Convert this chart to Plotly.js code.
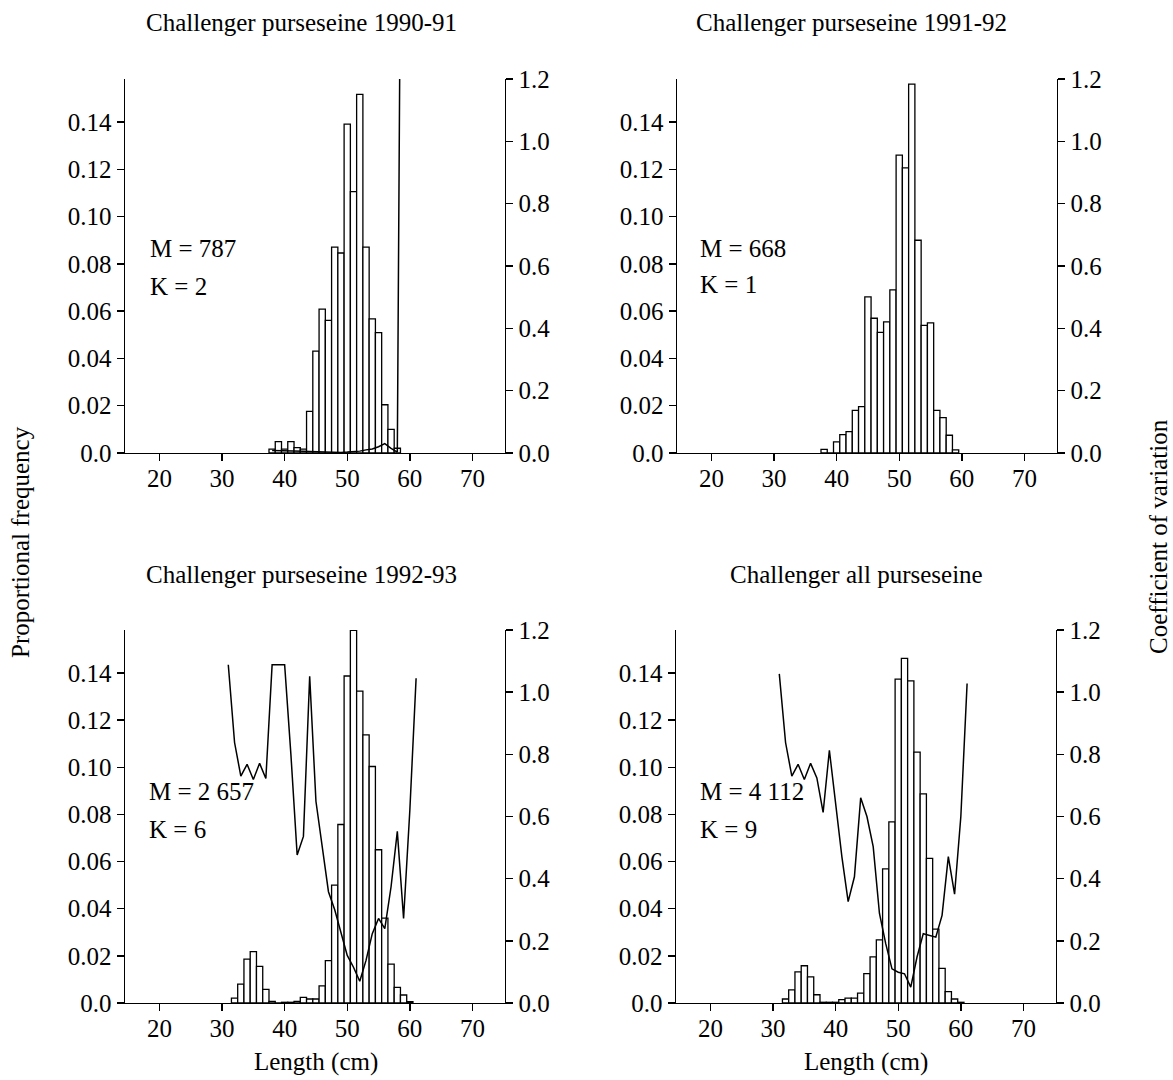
<!DOCTYPE html>
<html><head><meta charset="utf-8">
<script src="https://cdn.plot.ly/plotly-3.0.1.min.js"></script>
<style>html,body{margin:0;padding:0;background:#fff}</style>
</head><body><div id="chart" style="width:1173px;height:1080px"></div>
<script>
// ---------- data ----------
const panelTitles = ['Challenger purseseine 1990-91','Challenger purseseine 1991-92','Challenger purseseine 1992-93','Challenger all purseseine'];
const mLabels = ['M = 787','M = 668','M = 2 657','M = 4 112'];
const kLabels = ['K = 2','K = 1','K = 6','K = 9'];
const xTickVals = [20,30,40,50,60,70];
const xTickText = ['20','30','40','50','60','70'];
const freqTickVals = [0,0.02,0.04,0.06,0.08,0.10,0.12,0.14];
const freqTickText = ['0.0','0.02','0.04','0.06','0.08','0.10','0.12','0.14'];
const cvTickVals = [0,0.2,0.4,0.6,0.8,1.0,1.2];
const cvTickText = ['0.0','0.2','0.4','0.6','0.8','1.0','1.2'];
const xLabel = 'Length (cm)';
const yLeftLabel = 'Proportional frequency';
const yRightLabel = 'Coefficient of variation';

// 1990-91
const len1990 = [38,39,40,41,42,43,44,45,46,47,48,49,50,51,52,53,54,55,56,57,58];
const freq1990 = [0.0016,0.0048,0.0016,0.0048,0.0023,0.0016,0.0176,0.0431,0.0609,0.0561,0.0871,0.0846,0.1391,0.1106,0.1517,0.0871,0.0567,0.0509,0.0204,0.0100,0.0020];
const cvLen1990 = [38,39,40,41,42,43,44,45,46,47,48,49,50,51,52,53,54,55,56,57,58,59];
const cv1990 = [0.008,0.008,0.008,0.008,0.007,0.006,0.005,0.004,0.003,0.002,0.002,0.002,0.003,0.004,0.006,0.010,0.013,0.020,0.030,0.015,0.003,3.2];

// 1991-92
const len1991 = [38,39,40,41,42,43,44,45,46,47,48,49,50,51,52,53,54,55,56,57,58,59];
const freq1991 = [0.0015,0.0000,0.0047,0.0078,0.0090,0.0180,0.0196,0.0660,0.0570,0.0510,0.0555,0.0690,0.1260,0.1206,0.1560,0.0900,0.0540,0.0550,0.0180,0.0150,0.0075,0.0013];

// 1992-93
const len1992 = [32,33,34,35,36,37,38,39,40,41,42,43,44,45,46,47,48,49,50,51,52,53,54,55,56,57,58,59,60];
const freq1992 = [0.0021,0.0080,0.0186,0.0218,0.0155,0.0058,0.0007,0.0000,0.0003,0.0003,0.0007,0.0024,0.0017,0.0017,0.0073,0.0180,0.0500,0.0757,0.1387,0.1580,0.1323,0.1137,0.1003,0.0650,0.0360,0.0165,0.0066,0.0034,0.0006];
const cvLen1992 = [31,32,33,34,35,36,37,38,39,40,41,42,43,44,45,46,47,48,49,50,51,52,53,54,55,56,57,58,59,60,61];
const cv1992 = [1.088,0.838,0.730,0.768,0.719,0.771,0.722,1.088,1.088,1.088,0.800,0.476,0.536,1.051,0.649,0.500,0.358,0.300,0.223,0.153,0.115,0.070,0.137,0.223,0.272,0.239,0.374,0.552,0.272,0.620,1.045];

// all purseseine
const lenAll = [32,33,34,35,36,37,38,39,40,41,42,43,44,45,46,47,48,49,50,51,52,53,54,55,56,57,58,59,60];
const freqAll = [0.0017,0.0056,0.0132,0.0158,0.0111,0.0035,0.0003,0.0003,0.0003,0.0014,0.0021,0.0021,0.0042,0.0125,0.0196,0.0268,0.0569,0.0768,0.1374,0.1462,0.1366,0.1064,0.0887,0.0613,0.0313,0.0147,0.0048,0.0017,0.0003];
const cvLenAll = [31,32,33,34,35,36,37,38,39,40,41,42,43,44,45,46,47,48,49,50,51,52,53,54,55,56,57,58,59,60,61];
const cvAll = [1.059,0.838,0.730,0.768,0.719,0.771,0.724,0.613,0.813,0.640,0.470,0.326,0.406,0.660,0.600,0.503,0.288,0.191,0.110,0.099,0.094,0.051,0.148,0.223,0.218,0.212,0.282,0.471,0.350,0.600,1.028];

// ---------- layout helpers ----------
const W = 1173, H = 1080;
const px = v => v / W;
const py = v => 1 - v / H;
const FONT = 'Liberation Serif, Times New Roman, serif';
const FS = 25;
const black = '#000';

const panels = [
  {xd:[125,505], yd:[79,453]},
  {xd:[677,1057], yd:[79,453]},
  {xd:[125,505], yd:[630,1003]},
  {xd:[676,1056], yd:[630,1003]}
];
const titlePos = [[301,22],[851,22],[301,574],[856,574]];
const mPos = [[148,248],[698,248],[147,791],[698,791]];
const kPos = [[148,286],[698,284],[147,829],[698,829]];

const freqLens = [len1990, len1991, len1992, lenAll];
const freqVals = [freq1990, freq1991, freq1992, freqAll];
const cvLens = [cvLen1990, null, cvLen1992, cvLenAll];
const cvVals = [cv1990, null, cv1992, cvAll];

const traces = [];
const layout = {
  width: W, height: H,
  margin: {l:0, r:0, t:0, b:0},
  paper_bgcolor: '#fff', plot_bgcolor: 'rgba(0,0,0,0)',
  showlegend: false,
  font: {family: FONT, size: FS, color: black},
  bargap: 0,
  annotations: []
};

const axisCommon = {
  showgrid: false, zeroline: false, showline: true,
  linecolor: black, linewidth: 1.4,
  ticks: 'outside', ticklen: 7, tickwidth: 1.4, tickcolor: black,
  tickfont: {family: FONT, size: FS, color: black},
  fixedrange: true
};

for (let i = 0; i < 4; i++) {
  const p = panels[i];
  const xn = i + 1, yl = i + 1, yr = i + 5;
  const xid = xn === 1 ? 'x' : 'x' + xn;
  const ylid = yl === 1 ? 'y' : 'y' + yl;
  const yrid = 'y' + yr;
  layout['xaxis' + (xn === 1 ? '' : xn)] = Object.assign({}, axisCommon, {
    domain: [px(p.xd[0]), px(p.xd[1])], anchor: ylid,
    range: [14.5, 75.2], tickvals: xTickVals, ticktext: xTickText,
    ticklabelstandoff: -4
  });
  layout['yaxis' + (yl === 1 ? '' : yl)] = Object.assign({}, axisCommon, {
    domain: [py(p.yd[1]), py(p.yd[0])], anchor: xid,
    range: [0, 0.1582], tickvals: freqTickVals, ticktext: freqTickText
  });
  layout['yaxis' + yr] = Object.assign({}, axisCommon, {
    domain: [py(p.yd[1]), py(p.yd[0])], anchor: xid, overlaying: ylid, side: 'right',
    range: [0, 1.2], tickvals: cvTickVals, ticktext: cvTickText
  });

  traces.push({
    type: 'bar', x: freqLens[i], y: freqVals[i], width: 1,
    xaxis: xid, yaxis: ylid,
    marker: {color: '#fff', line: {color: black, width: 1.3}},
    hoverinfo: 'skip'
  });
  if (cvLens[i]) {
    traces.push({
      type: 'scatter', mode: 'lines', x: cvLens[i], y: cvVals[i],
      xaxis: xid, yaxis: yrid,
      line: {color: black, width: 1.5},
      hoverinfo: 'skip'
    });
  } else {
    traces.push({type: 'scatter', mode: 'lines', x: [], y: [], xaxis: xid, yaxis: yrid});
  }

  layout.annotations.push(
    {text: panelTitles[i], xref:'paper', yref:'paper', x: px(titlePos[i][0]), y: py(titlePos[i][1]),
     xanchor:'center', yanchor:'middle', showarrow:false, font:{family:FONT, size:FS, color:black}},
    {text: mLabels[i], xref:'paper', yref:'paper', x: px(mPos[i][0]), y: py(mPos[i][1]),
     xanchor:'left', yanchor:'middle', showarrow:false, font:{family:FONT, size:FS, color:black}},
    {text: kLabels[i], xref:'paper', yref:'paper', x: px(kPos[i][0]), y: py(kPos[i][1]),
     xanchor:'left', yanchor:'middle', showarrow:false, font:{family:FONT, size:FS, color:black}}
  );
}

layout.annotations.push(
  {text: xLabel, xref:'paper', yref:'paper', x: px(316), y: py(1062), xanchor:'center', yanchor:'middle',
   showarrow:false, font:{family:FONT, size:FS, color:black}},
  {text: xLabel, xref:'paper', yref:'paper', x: px(866), y: py(1062), xanchor:'center', yanchor:'middle',
   showarrow:false, font:{family:FONT, size:FS, color:black}},
  {text: yLeftLabel, xref:'paper', yref:'paper', x: px(20), y: py(542), xanchor:'center', yanchor:'middle',
   textangle:-90, showarrow:false, font:{family:FONT, size:FS, color:black}},
  {text: yRightLabel, xref:'paper', yref:'paper', x: px(1158), y: py(537), xanchor:'center', yanchor:'middle',
   textangle:-90, showarrow:false, font:{family:FONT, size:FS, color:black}}
);

Plotly.newPlot('chart', traces, layout, {staticPlot: true, displayModeBar: false});
</script></body></html>
